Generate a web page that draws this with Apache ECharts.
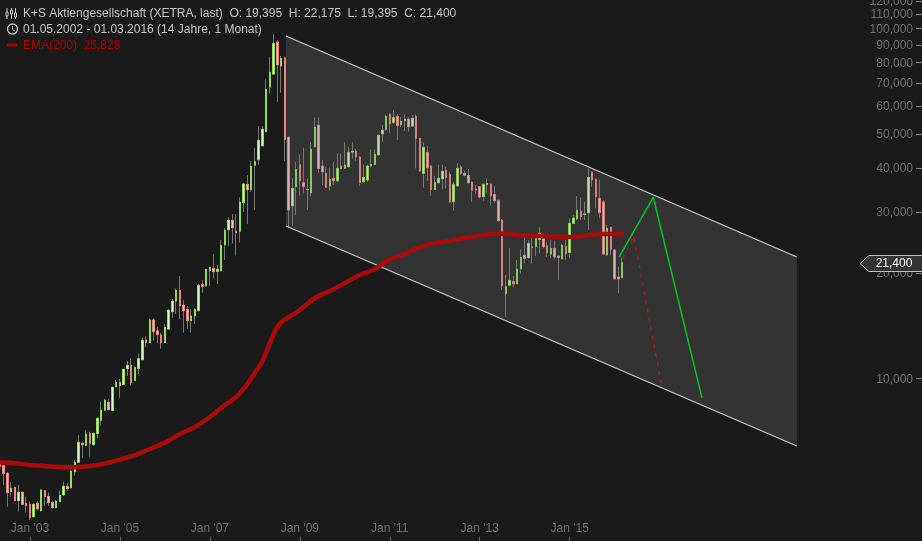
<!DOCTYPE html>
<html>
<head>
<meta charset="utf-8">
<style>html,body{margin:0;padding:0;background:#1a1a1a}#c{width:922px;height:541px}</style>
<script src="https://cdn.jsdelivr.net/npm/echarts@6/dist/echarts.min.js"></script>
</head>
<body>
<div id="c"></div>
<script>
var opens = [5725,5635,5360,4749,4888,4477,4730,4400,4370,4030,4400,4192,4781,4608,4430,4276,4448,4650,4920,4876,5420,5762,6529,6443,6972,6467,6972,7597,8113,8550,8113,9474,9752,9620,10666,10903,9880,10695,11316,12882,12660,14693,13670,13310,12660,13850,15520,16650,17860,16190,15760,14625,15110,15620,18570,18400,20320,20640,20240,20320,24100,26610,28310,26390,26330,31790,35870,34620,40690,42180,46230,50700,68000,74100,91500,78100,82350,48870,31155,35310,40800,36250,34700,33930,45940,52900,40455,38560,35520,37320,36730,40455,39850,40280,44370,44570,42850,36490,36904,40530,40900,43580,50030,51520,56830,53960,56110,53070,54510,55130,52630,56110,48550,38560,44270,40455,34700,36250,37220,39330,38290,31990,35520,40110,38560,38050,36420,34620,35310,33100,35770,35870,33570,32290,28366,17460,18480,18900,18650,20590,22480,22140,23700,23800,24980,25150,23950,22680,23540,22370,21990,23850,22910,27750,28560,30040,29440,29760,38830,37070,32720,31930,22560,27040,23286,19500,19395];
var closes = [5600,5360,4718,4857,4477,4730,4370,4332,4004,4370,4240,4803,4596,4420,4276,4460,4638,4920,4844,5432,5762,6573,6467,6925,6529,6972,7697,8113,8665,8145,9437,9752,9540,10625,10903,9752,10735,11390,12857,12660,14693,13610,13370,12660,14000,15660,16620,17860,16135,15620,14625,15080,15760,18450,18300,20510,20780,20190,20510,24010,26500,28310,26970,26090,31870,35930,34620,40390,41620,47920,51520,67030,74950,90680,78800,82200,48230,30295,34940,39600,36730,35310,34620,45150,52190,39850,38970,35190,37070,36730,39850,39750,40690,44270,44570,43000,36250,37560,40455,40900,43700,49500,51180,56110,53430,55600,52900,54300,55020,52390,55380,48550,39230,45760,40010,34700,36340,37320,39080,37500,31930,35870,39850,38560,38050,36250,34490,34700,33000,35870,36100,33270,32200,28230,18400,18300,19080,18650,20510,22170,22050,24330,23750,25150,25980,23800,22910,23540,22260,22170,24010,22720,27750,28740,30230,29000,29500,37560,36904,33060,29760,22680,26860,23400,19280,19240,21400];
var lows = [5540,4960,4304,4596,4460,4165,4350,4137,3944,4010,4192,4170,4323,4323,4258,4258,4430,4630,4781,4857,5274,5740,5917,6410,5978,6440,6750,7329,8080,8113,8080,9437,8780,9590,10180,9540,9850,10300,11290,12300,12620,12820,12600,12165,12620,13758,14910,15280,14790,13520,13850,13520,14310,15590,17580,18330,18400,19330,18620,20240,21804,23950,24330,22450,24430,29900,27620,34170,30295,40800,46100,50500,65250,73800,61700,65500,41900,26860,27320,29300,33270,33800,30295,33100,45800,38730,35690,35150,34400,35690,36340,39600,39750,40110,42560,41900,35520,36250,36420,40110,40800,43200,47380,50940,50360,53320,48013,52190,50940,50700,52390,39850,38900,35100,36730,33270,34620,36100,34780,34940,31790,30160,35290,38130,37770,36100,31990,33640,32720,32200,33800,31155,31790,28050,17899,15020,18300,18230,18620,19890,21330,22050,21330,22370,22780,23540,22260,22050,21900,19116,21900,21804,22050,27700,28366,28366,28366,26560,35310,30630,28680,22520,22400,22520,19116,17510,19395];
var highs = [5917,5650,5380,5072,4908,4961,4745,4596,4448,4400,4470,4820,4803,4718,4448,4498,4781,5072,5020,5450,5851,6894,6600,7127,7047,7000,7730,8585,8756,8756,9460,9902,9967,10670,11220,11420,10850,11800,13080,13230,14820,14860,14060,13460,14310,15790,16870,18100,19630,16759,16100,15790,15870,18620,19116,20540,20860,22680,21080,24869,26860,28870,29500,29500,32940,36250,38130,41820,45640,52630,52630,71580,83100,96500,92700,83400,83100,49300,37320,41620,43700,45640,37320,47380,55740,55740,42094,40280,40110,41620,43980,43980,47280,45940,47280,45250,43200,40900,40800,45150,45150,49900,52970,56700,57220,58489,56960,55960,56830,55740,56560,56830,48700,47280,46140,40800,37950,40800,40800,40280,38970,36490,41260,40800,39230,39670,36490,35690,35400,36100,37320,36100,35520,32400,28560,19760,23590,19630,21804,23400,25980,24869,25310,25700,27040,25980,24590,24869,24760,22400,24330,24869,28680,29300,33210,32940,31990,39850,38970,37320,37070,32355,27450,27150,23350,20860,22175];

var emaIndex = [0,4,8,12,16,20,24,28,32,36,40,44,48,52,56,60,62,64,66,68,70,72,74,76,78,80,84,88,92,96,100,104,108,112,116,120,124,128,132,136,140,144,148,152,156,160,164,166];
var emaValues = [5762,5729,5658,5620,5587,5577,5620,5717,5870,6044,6290,6565,6940,7270,7762,8400,8682,9090,9640,10370,11220,12627,14030,14740,15175,15692,16980,17780,18740,19760,20550,21900,22680,23750,24380,24700,25200,25600,25910,25860,25600,25530,25410,25360,25580,25860,25860,25828];

var channelX = [76.3, 212.6];
var channelTop = [95190, 22240];
var channelBottom = [27270, 6415];
var greenPathX = [165.2, 174.3, 187.3];
var greenPathY = [22260, 32940, 8800];
var redPathX = [166.2, 169.1, 176.4];
var redPathY = [22050, 25530, 9700];

var yTicks = [10000,20000,30000,40000,50000,60000,70000,80000,90000,100000,110000,120000];
var xTickLabels = ["Jan '03","Jan '05","Jan '07","Jan '09","Jan '11","Jan '13","Jan '15"];
var lastPrice = 21400;

var monthCount = 247;
var categories = [];
for (var m = 0; m < monthCount; m++) {
  var month = (4 + m) % 12, year = 2002 + Math.floor((4 + m) / 12);
  categories.push(month === 0 ? "Jan '" + String(year).slice(2) : year + '-' + (month + 1));
}
function isLabelled(i, v) { return xTickLabels.indexOf(categories[i]) >= 0; }

var wickData = opens.map(function (o, i) { return [o, closes[i], lows[i], highs[i]]; });
var bodyData = opens.map(function (o, i) {
  return [o, closes[i], Math.min(o, closes[i]), Math.max(o, closes[i])];
});
var emaData = emaIndex.map(function (x, i) { return [x, emaValues[i]]; });

var chart = echarts.init(document.getElementById('c'), null, { renderer: 'canvas' });
var grey = '#6e6e6e';
var tickGrey = '#808080';
var wick = '#757575';
var font = 'Liberation Sans, Arial, sans-serif';
var option = {
  animation: false,
  backgroundColor: '#1a1a1a',
  grid: { left: 0, right: 0, top: 0, bottom: 0, containLabel: false, outerBoundsMode: 'none' },
  xAxis: [{
    type: 'category', data: categories, boundaryGap: false,
    axisLine: { show: false }, splitLine: { show: false },
    axisTick: { show: true, inside: true, length: 4, interval: isLabelled, lineStyle: { color: grey } },
    axisLabel: { show: true, inside: true, margin: 6, interval: isLabelled, color: grey, fontSize: 12, fontFamily: font, hideOverlap: false }
  }, {
    type: 'value', min: 0, max: monthCount - 1, show: false
  }],
  yAxis: [{
    type: 'log', logBase: 10, position: 'right',
    min: 10000 * Math.pow(10, -162.5 / 350), max: 10000 * Math.pow(10, 378.5 / 350),
    axisLine: { show: false }, splitLine: { show: false }, minorTick: { show: false },
    axisTick: { show: false },
    axisLabel: {
      show: true, inside: true, margin: 9, customValues: yTicks, color: grey, fontSize: 12, fontFamily: font,
      showMinLabel: true, showMaxLabel: true, hideOverlap: false, verticalAlign: 'top', lineHeight: 2,
      formatter: function (v) { return Math.round(v).toLocaleString('en-US'); }
    }
  }],
  series: [{
    name: 'wicks', type: 'candlestick', data: wickData, barWidth: 2, silent: true, clip: true,
    itemStyle: { color: wick, color0: wick, borderColor: wick, borderColor0: wick, borderWidth: 1 }
  }, {
    name: 'K+S Aktiengesellschaft', type: 'candlestick', data: bodyData, barWidth: 2, silent: true, clip: true,
    itemStyle: { color: '#dcffc4', color0: '#ffc2c2', borderColor: '#8fe050', borderColor0: '#f28282', borderColorDoji: '#8fe050', borderWidth: 1 }
  }, {
    name: 'EMA(200)', type: 'line', data: emaData, showSymbol: false, symbol: 'none', smooth: 0.3,
    lineStyle: { color: '#aa0a08', width: 4.5, cap: 'round', join: 'round' }, silent: true
  }, {
    name: 'channel', type: 'custom', xAxisIndex: 1, data: [0], silent: true, clip: false, z: 3,
    renderItem: function (params, api) {
      var tl = api.coord([channelX[0], channelTop[0]]), tr = api.coord([channelX[1], channelTop[1]]);
      var bl = api.coord([channelX[0], channelBottom[0]]), br = api.coord([channelX[1], channelBottom[1]]);
      return { type: 'group', children: [
        { type: 'polygon', shape: { points: [tl, tr, br, bl] }, style: { fill: 'rgba(128,128,128,0.25)' } },
        { type: 'polyline', shape: { points: [tl, tr] }, style: { fill: 'none', stroke: '#c8c8c8', lineWidth: 1.3 } },
        { type: 'polyline', shape: { points: [bl, br] }, style: { fill: 'none', stroke: '#c8c8c8', lineWidth: 1.3 } }
      ] };
    }
  }, {
    name: 'scenario up', type: 'line', xAxisIndex: 1, showSymbol: false, symbol: 'none', silent: true, z: 4,
    data: greenPathX.map(function (x, i) { return [x, greenPathY[i]]; }),
    lineStyle: { color: '#00c81e', width: 1.5 }
  }, {
    name: 'scenario down', type: 'line', xAxisIndex: 1, showSymbol: false, symbol: 'none', silent: true, z: 4,
    data: redPathX.map(function (x, i) { return [x, redPathY[i]]; }),
    lineStyle: { color: '#a51c1c', width: 1.5, type: [4, 5] }
  }, {
    name: 'last price', type: 'custom', xAxisIndex: 1, data: [lastPrice], silent: true, clip: false, z: 5,
    renderItem: function (params, api) {
      var p = api.coord([0, lastPrice]);
      var y = Math.round(p[1]) + 0.5, r = api.getWidth();
      var top = y - 8, bot = y + 8;
      var children = [
        { type: 'polygon', shape: { points: [[r + 2, top], [r - 53, top], [r - 62, y], [r - 53, bot], [r + 2, bot]] },
          style: { fill: '#333333', stroke: '#bdbdbd', lineWidth: 1 } },
        { type: 'text', style: { x: r - 28, y: y + 0.5, text: '21,400', fill: '#ffffff', font: '12px ' + font, textAlign: 'center', textVerticalAlign: 'middle' } }
      ];
      yTicks.forEach(function (v) {
        var q = api.coord([0, v]);
        children.unshift({ type: 'rect', shape: { x: r - 6, y: Math.round(q[1]), width: 6, height: 1 }, style: { fill: tickGrey } });
      });
      return { type: 'group', children: children };
    }
  }],
  graphic: [
    { type: 'rect', z: 100, shape: { x: 3, y: 5, width: 457, height: 16 }, style: { fill: '#1a1a1a' } },
    { type: 'rect', z: 100, shape: { x: 3, y: 21, width: 268, height: 16 }, style: { fill: '#1a1a1a' } },
    { type: 'rect', z: 100, shape: { x: 3, y: 37, width: 123, height: 16 }, style: { fill: '#1a1a1a' } },
    { type: 'text', z: 101, style: { x: 23, y: 14, text: 'K+S Aktiengesellschaft (XETRA, last)  O: 19,395  H: 22,175  L: 19,395  C: 21,400', fill: '#c4c4c4', font: '12px ' + font, textVerticalAlign: 'middle' } },
    { type: 'text', z: 101, style: { x: 23, y: 30, text: '01.05.2002 - 01.03.2016 (14 Jahre, 1 Monat)', fill: '#c4c4c4', font: '12px ' + font, textVerticalAlign: 'middle' } },
    { type: 'text', z: 101, style: { x: 23, y: 46, text: 'EMA(200)  25,828', fill: '#b00000', font: '12px ' + font, textVerticalAlign: 'middle' } },
    { type: 'line', z: 101, shape: { x1: 7, y1: 8, x2: 7, y2: 19 }, style: { stroke: '#c4c4c4', lineWidth: 1 } },
    { type: 'rect', z: 101, shape: { x: 6, y: 12, width: 2, height: 4 }, style: { fill: '#1a1a1a', stroke: '#c4c4c4', lineWidth: 1 } },
    { type: 'line', z: 101, shape: { x1: 11.5, y1: 8, x2: 11.5, y2: 19 }, style: { stroke: '#c4c4c4', lineWidth: 1 } },
    { type: 'rect', z: 101, shape: { x: 10.5, y: 10, width: 2, height: 4 }, style: { fill: '#1a1a1a', stroke: '#c4c4c4', lineWidth: 1 } },
    { type: 'line', z: 101, shape: { x1: 15.5, y1: 8, x2: 15.5, y2: 19 }, style: { stroke: '#c4c4c4', lineWidth: 1 } },
    { type: 'rect', z: 101, shape: { x: 14.5, y: 13, width: 2, height: 4 }, style: { fill: '#1a1a1a', stroke: '#c4c4c4', lineWidth: 1 } },
    { type: 'circle', z: 101, shape: { cx: 12.5, cy: 29, r: 5 }, style: { fill: 'none', stroke: '#c4c4c4', lineWidth: 1.3 } },
    { type: 'polyline', z: 101, shape: { points: [[12.5, 26], [12.5, 29.5], [15, 31]] }, style: { fill: 'none', stroke: '#c4c4c4', lineWidth: 1 } },
    { type: 'rect', z: 101, shape: { x: 7, y: 43.5, width: 10, height: 3 }, style: { fill: '#a80000' } }
  ]
};
chart.setOption(option);
</script>
</body>
</html>
